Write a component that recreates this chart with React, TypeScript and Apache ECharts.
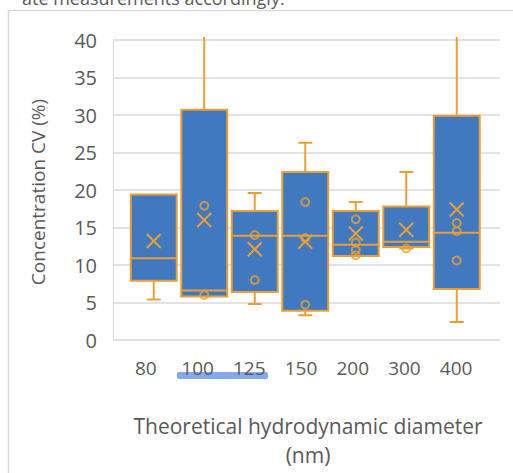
import React, { useEffect, useRef } from "react";
import * as echarts from "echarts";

const categories = ["80", "100", "125", "150", "200", "300", "400"];
const whiskerMin = [5.4, 5.8, 4.8, 3.3, 11.2, 12.2, 2.4];
const q1 = [7.9, 5.8, 6.4, 3.9, 11.2, 12.4, 6.8];
const median = [10.9, 6.6, 13.9, 13.9, 12.7, 13.1, 14.3];
const q3 = [19.4, 30.7, 17.2, 22.4, 17.2, 17.8, 29.9];
const whiskerMax = [19.4, 40.4, 19.6, 26.3, 18.4, 22.4, 40.4];
const means = [13.2, 16.0, 12.1, 13.1, 14.2, 14.7, 17.4];
const innerPoints: number[][] = [
  [],
  [17.9, 6.0],
  [14.0, 8.0],
  [18.4, 13.6, 4.7],
  [16.1, 13.0, 12.0, 11.3],
  [12.2],
  [15.6, 14.5, 10.6],
];
const yTicks = { min: 0, max: 40, interval: 5 };

const BLUE = "#4079BF";
const ORANGE = "#EA9F35";
const GRID_GRAY = "#d9d9d9";
const TEXT = "#595959";
const FONT = '"Open Sans", "Noto Sans", sans-serif';

export default function App() {
  const ref = useRef<HTMLDivElement>(null);
  useEffect(() => {
    if (!ref.current) return;
    const chart = echarts.init(ref.current, null, { renderer: "svg" });
    const boxData = categories.map((_, i) => [
      i,
      whiskerMin[i],
      q1[i],
      median[i],
      q3[i],
      whiskerMax[i],
      means[i],
    ]);
    const pointData: number[][] = [];
    innerPoints.forEach((pts, i) => pts.forEach((v) => pointData.push([i, v])));

    const stroke = { stroke: ORANGE, lineWidth: 2, fill: "none" };
    const renderItem = (_params: any, api: any) => {
      const i = api.value(0);
      const mn = api.value(1);
      const lo = api.value(2);
      const md = api.value(3);
      const hi = api.value(4);
      const mx = api.value(5);
      const mean = api.value(6);
      const bw = api.size([1, 0])[0] * 0.91;
      const pMn = api.coord([i, mn]);
      const pLo = api.coord([i, lo]);
      const pMd = api.coord([i, md]);
      const pHi = api.coord([i, hi]);
      const pMx = api.coord([i, mx]);
      const pMean = api.coord([i, mean]);
      const x = pLo[0];
      const cap = 7;
      const children: any[] = [];
      if (mx > hi) {
        children.push({ type: "line", shape: { x1: x, y1: pHi[1], x2: x, y2: pMx[1] }, style: stroke });
        if (mx <= yTicks.max)
          children.push({ type: "line", shape: { x1: x - cap, y1: pMx[1], x2: x + cap, y2: pMx[1] }, style: stroke });
      }
      if (mn < lo) {
        children.push({ type: "line", shape: { x1: x, y1: pLo[1], x2: x, y2: pMn[1] }, style: stroke });
        children.push({ type: "line", shape: { x1: x - cap, y1: pMn[1], x2: x + cap, y2: pMn[1] }, style: stroke });
      }
      children.push({
        type: "rect",
        shape: { x: x - bw / 2, y: pHi[1], width: bw, height: pLo[1] - pHi[1] },
        style: { fill: BLUE, stroke: ORANGE, lineWidth: 2 },
      });
      children.push({ type: "line", shape: { x1: x - bw / 2, y1: pMd[1], x2: x + bw / 2, y2: pMd[1] }, style: stroke });
      const m = 7;
      children.push({ type: "line", shape: { x1: pMean[0] - m, y1: pMean[1] - m, x2: pMean[0] + m, y2: pMean[1] + m }, style: stroke });
      children.push({ type: "line", shape: { x1: pMean[0] - m, y1: pMean[1] + m, x2: pMean[0] + m, y2: pMean[1] - m }, style: stroke });
      return { type: "group", children };
    };

    chart.setOption({
      animation: false,
      grid: [
        { left: 113, top: 40, width: 387, height: 300 },
        { left: 128.5, top: 40, width: 353.5, height: 300 },
        { left: 120, top: 40, width: 362, height: 300 },
      ],
      xAxis: [
        { gridIndex: 0, type: "value", show: false, min: 0, max: 1 },
        {
          gridIndex: 1,
          type: "category",
          data: categories,
          axisLine: { show: false },
          axisTick: { show: false },
          axisLabel: { show: false },
        },
        {
          gridIndex: 2,
          type: "category",
          data: categories,
          axisLine: { show: false },
          axisTick: { show: false },
          axisLabel: { color: TEXT, fontSize: 19, fontFamily: FONT, margin: 18 },
        },
      ],
      yAxis: [
        {
          gridIndex: 0,
          type: "value",
          min: yTicks.min,
          max: yTicks.max,
          interval: yTicks.interval,
          axisLine: { show: true, lineStyle: { color: GRID_GRAY, width: 1 } },
          axisTick: { show: false },
          splitLine: { show: true, lineStyle: { color: GRID_GRAY, width: 1.5 } },
          axisLabel: { color: TEXT, fontSize: 20, fontFamily: FONT, margin: 16 },
        },
        { gridIndex: 1, type: "value", min: yTicks.min, max: yTicks.max, show: false },
        { gridIndex: 2, type: "value", min: yTicks.min, max: yTicks.max, show: false },
      ],
      series: [
        {
          type: "custom",
          xAxisIndex: 1,
          yAxisIndex: 1,
          renderItem,
          encode: { x: 0, y: [1, 2, 3, 4, 5, 6] },
          data: boxData,
          z: 2,
        },
        {
          type: "scatter",
          xAxisIndex: 1,
          yAxisIndex: 1,
          symbol: "circle",
          symbolSize: 8,
          itemStyle: { color: "transparent", borderColor: ORANGE, borderWidth: 2 },
          data: pointData,
          z: 3,
        },
      ],
      graphic: [
        {
          type: "rect",
          shape: { x: 8.5, y: 10.5, width: 700, height: 700 },
          style: { fill: "none", stroke: GRID_GRAY, lineWidth: 1.5 },
          z: 0,
        },
        {
          type: "text",
          x: 22,
          y: 7,
          style: {
            text: "ate measurements accordingly.",
            fill: TEXT,
            font: `18px ${FONT}`,
            verticalAlign: "bottom",
          },
        },
        {
          type: "rect",
          shape: { x: 177, y: 372, width: 91, height: 7, r: 2 },
          style: { fill: "#84aaee" },
          z: 0,
        },
        {
          type: "text",
          x: 38,
          y: 192,
          rotation: Math.PI / 2,
          style: {
            text: "Concentration CV (%)",
            fill: TEXT,
            font: `19px ${FONT}`,
            align: "center",
            verticalAlign: "middle",
          },
        },
        {
          type: "text",
          x: 308,
          y: 411,
          style: {
            text: "Theoretical hydrodynamic diameter\n(nm)",
            fill: TEXT,
            font: `21px ${FONT}`,
            align: "center",
            verticalAlign: "top",
            lineHeight: 29,
          },
        },
      ],
    });
    return () => chart.dispose();
  }, []);
  return (
    <div
      ref={ref}
      style={{ position: "absolute", left: 0, top: 0, width: 513, height: 473 }}
    />
  );
}
